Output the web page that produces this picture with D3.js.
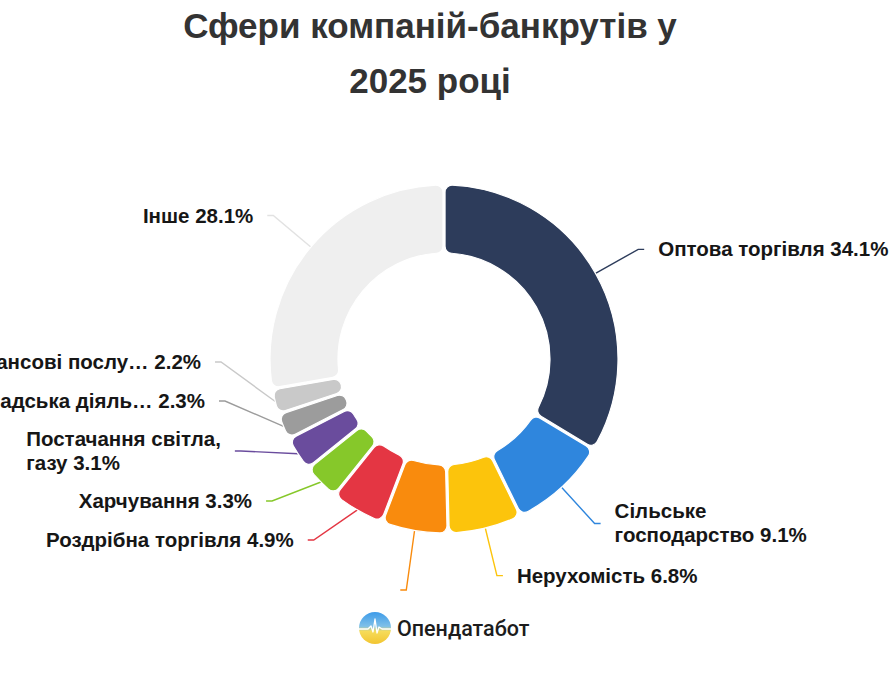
<!DOCTYPE html>
<html>
<head>
<meta charset="utf-8">
<script src="https://cdn.jsdelivr.net/npm/d3@7"></script>
<style>
  html, body { margin: 0; padding: 0; background: #ffffff; overflow: hidden; }
  svg { display: block; }
</style>
</head>
<body>
<svg id="chart" width="890" height="675"></svg>
<script>
// ---- data ----
const titleLines = ["Сфери компаній-банкрутів у", "2025 році"];
const categories = [
  "Оптова торгівля",
  "Сільське\nгосподарство",
  "Нерухомість",
  "",
  "Роздрібна торгівля",
  "Харчування",
  "Постачання світла,\nгазу",
  "Громадська діяль…",
  "Фінансові послу…",
  "Інше"
];
const values = [34.1, 9.1, 6.8, 6.1, 4.9, 3.3, 3.1, 2.3, 2.2, 28.1];
const colors = ["#2d3c5b", "#2f86dd", "#fcc40c", "#f98b0d", "#e43643", "#86c82a", "#6a4c9d", "#9c9c9c", "#c9c9c9", "#efefef"];
const lineColors = ["#2d3c5b", "#2f86dd", "#fcc40c", "#f98b0d", "#e43643", "#86c82a", "#6a4c9d", "#9c9c9c", "#c9c9c9", "#e2e2e2"];
const brand = "Опендатабот";

// ---- layout ----
const W = 890, H = 675;
const cx = 444, cy = 359, R = 174, r0 = 106;
const L1 = 49, L2 = 6, textGap = 14;
const labelBottom = 590;
const fontLabel = "'Liberation Sans', Arial, sans-serif";

const svg = d3.select("#chart");

// title
svg.append("g").selectAll("text").data(titleLines).join("text")
  .attr("x", 430)
  .attr("y", (d, i) => 38 + i * 55)
  .attr("text-anchor", "middle")
  .attr("font-family", fontLabel)
  .attr("font-weight", "bold")
  .attr("font-size", 35)
  .attr("fill", "#333333")
  .text(d => d);

const data = categories.map((c, i) => ({ name: c, value: values[i], color: colors[i], lc: lineColors[i] }));

const pie = d3.pie().sort(null).value(d => d.value).startAngle(0).endAngle(2 * Math.PI).padAngle(0.012);
const arcs = pie(data);
const arc = d3.arc().innerRadius(r0).outerRadius(R).cornerRadius(7).padRadius(R);

// label layout
const rA = R + L1;
const labels = arcs.map(a => {
  const m = (a.startAngle + a.endAngle) / 2;
  const s = Math.sin(m), c = Math.cos(m);
  const lines = a.data.name ? a.data.name.split("\n") : [""];
  lines[lines.length - 1] = (lines[lines.length - 1] ? lines[lines.length - 1] + " " : "") + a.data.value.toFixed(1) + "%";
  const show = !!a.data.name;
  return {
    a, dir: s >= 0 ? 1 : -1,
    p0: [cx + R * s, cy - R * c],
    nx: cx + rA * s, y: cy - rA * c,
    lines, show,
    h: (lines.length > 1 || !show) ? 61 : 39
  };
});

[1, -1].forEach(dir => {
  const side = labels.filter(l => l.dir === dir).sort((p, q) => p.y - q.y);
  for (let i = 1; i < side.length; i++) {
    const need = side[i - 1].y + (side[i - 1].h + side[i].h) / 2;
    if (side[i].y < need) side[i].y = need;
  }
  const last = side[side.length - 1];
  if (last.y > labelBottom) {
    last.y = labelBottom;
    for (let i = side.length - 2; i >= 0; i--) {
      const lim = side[i + 1].y - (side[i + 1].h + side[i].h) / 2;
      if (side[i].y > lim) side[i].y = lim;
    }
  }
});

labels.forEach(l => {
  const dy = l.y - cy;
  const dxc = dy * dy < rA * rA ? Math.sqrt(rA * rA - dy * dy) : 0;
  const dx = Math.max(dxc, Math.abs(l.nx - cx));
  l.bend = [cx + l.dir * dx, l.y];
  l.end = [l.bend[0] + l.dir * L2, l.y];
  l.tx = l.end[0] + l.dir * textGap;
});

// leader lines
svg.append("g").selectAll("polyline").data(labels).join("polyline")
  .attr("points", l => [l.p0, l.bend, l.end].map(p => p.join(",")).join(" "))
  .attr("fill", "none")
  .attr("stroke", l => l.a.data.lc)
  .attr("stroke-width", 1.4);

// slices
svg.append("g").selectAll("path").data(arcs).join("path")
  .attr("transform", `translate(${cx},${cy})`)
  .attr("d", arc)
  .attr("fill", d => d.data.color)
  .attr("stroke", "#ffffff")
  .attr("stroke-width", 1.2);

// label texts
const lg = svg.append("g");
labels.filter(l => l.show).forEach(l => {
  const n = l.lines.length;
  const t = lg.append("text")
    .attr("font-family", fontLabel)
    .attr("font-weight", "bold")
    .attr("font-size", 20.5)
    .attr("fill", "#161616");
  const spans = l.lines.map((ln, i) => t.append("tspan")
    .attr("y", l.y - (n - 1) * 12 + 7 + i * 24)
    .text(ln));
  let maxW = 0;
  spans.forEach(sp => { maxW = Math.max(maxW, sp.node().getComputedTextLength()); });
  const x0 = l.dir > 0 ? l.tx : l.tx - maxW;
  spans.forEach(sp => sp.attr("x", x0));
});

// brand logo
const defs = svg.append("defs");
const grad = defs.append("linearGradient").attr("id", "lg").attr("x1", 0).attr("y1", 0).attr("x2", 0).attr("y2", 1);
grad.append("stop").attr("offset", "0%").attr("stop-color", "#3d9be9");
grad.append("stop").attr("offset", "45%").attr("stop-color", "#7fc0e8");
grad.append("stop").attr("offset", "60%").attr("stop-color", "#f6dc5a");
grad.append("stop").attr("offset", "100%").attr("stop-color", "#f2c531");
const logo = svg.append("g").attr("transform", "translate(375,628)");
logo.append("circle").attr("r", 16).attr("fill", "url(#lg)");
logo.append("polyline")
  .attr("points", "-16,1 -7,1 -4,-2 -2,4 0,-9 2,5 4,-1 7,1 16,1")
  .attr("fill", "none").attr("stroke", "#ffffff").attr("stroke-width", 1.3).attr("stroke-linejoin", "round");
svg.append("text")
  .attr("x", 397).attr("y", 636)
  .attr("font-family", "Roboto, 'Noto Sans', sans-serif")
  .attr("font-weight", 500)
  .attr("font-size", 21.5)
  .attr("fill", "#1c1c1c")
  .text(brand);
</script>
</body>
</html>
